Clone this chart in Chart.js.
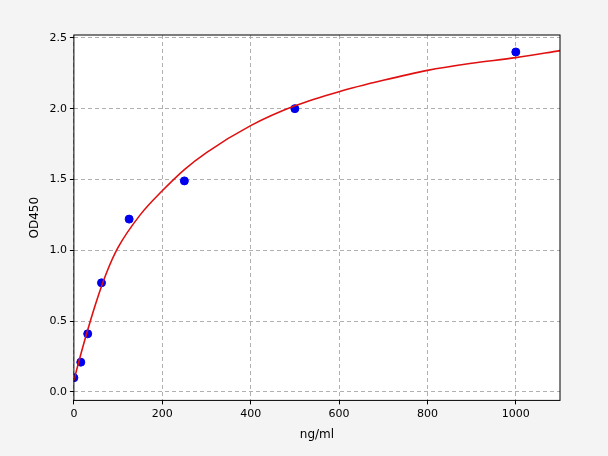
<!DOCTYPE html><html><head><script src="https://cdn.jsdelivr.net/npm/chart.js"></script>
<style>html,body{margin:0;background:#f4f4f4}#w{width:608px;height:456px}</style></head><body><div id="w"><canvas id="c"></canvas></div>
<script>
const pointX=[0,15.6,31.25,62.5,125,250,500,1000];
const pointY=[0.1,0.21,0.41,0.77,1.22,1.49,2.0,2.4];
const curveX=[0,10,25,50,75,100,150,200,250,300,400,500,600,700,800,900,1000,1100];
const curveY=[0.08,0.2,0.37,0.63,0.85,1.02,1.25,1.42,1.57,1.69,1.88,2.02,2.12,2.2,2.27,2.32,2.36,2.41];
const xTicks=[0,200,400,600,800,1000];
const yTicks=[0,0.5,1,1.5,2,2.5];
const bg={id:'bg',beforeDraw(c){const a=c.chartArea,x=c.ctx;x.save();x.fillStyle='#fff';x.fillRect(a.left,a.top,a.right-a.left,a.bottom-a.top);x.restore();}};
const frame={id:'f',afterDraw(c){const a=c.chartArea,x=c.ctx;x.save();x.strokeStyle='#000';x.lineWidth=1;x.strokeRect(a.left,a.top,a.right-a.left,a.bottom-a.top);x.restore();}};
new Chart(document.getElementById('c'),{type:'scatter',data:{datasets:[
{type:'line',data:curveX.map((v,i)=>({x:v,y:curveY[i]})),borderColor:'#e01010',borderWidth:1.6,pointRadius:0,cubicInterpolationMode:'monotone',fill:false},
{data:pointX.map((v,i)=>({x:v,y:pointY[i]})),backgroundColor:'#0000ee',borderColor:'#0000ee',pointRadius:4}]},
options:{responsive:true,maintainAspectRatio:false,animation:false,layout:{padding:{left:24,right:48,top:35,bottom:10}},
plugins:{legend:{display:false},tooltip:{enabled:false}},
scales:{x:{type:'linear',min:0,max:1100,afterBuildTicks:s=>{s.ticks=xTicks.map(v=>({value:v}))},grid:{color:'#b0b0b0',tickColor:'#000',tickLength:4},border:{display:false,dash:[4,3]},ticks:{color:'#000',font:{family:'DejaVu Sans',size:11},callback:v=>String(v)},title:{display:true,text:'ng/ml',color:'#000',font:{family:'DejaVu Sans',size:12}}},
y:{min:-0.06,max:2.52,afterBuildTicks:s=>{s.ticks=yTicks.map(v=>({value:v}))},grid:{color:'#b0b0b0',tickColor:'#000',tickLength:4},border:{display:false,dash:[4,3]},ticks:{color:'#000',font:{family:'DejaVu Sans',size:11},callback:v=>v.toFixed(1)},title:{display:true,text:'OD450',color:'#000',font:{family:'DejaVu Sans',size:12}}}}},plugins:[bg,frame]});
</script></body></html>
